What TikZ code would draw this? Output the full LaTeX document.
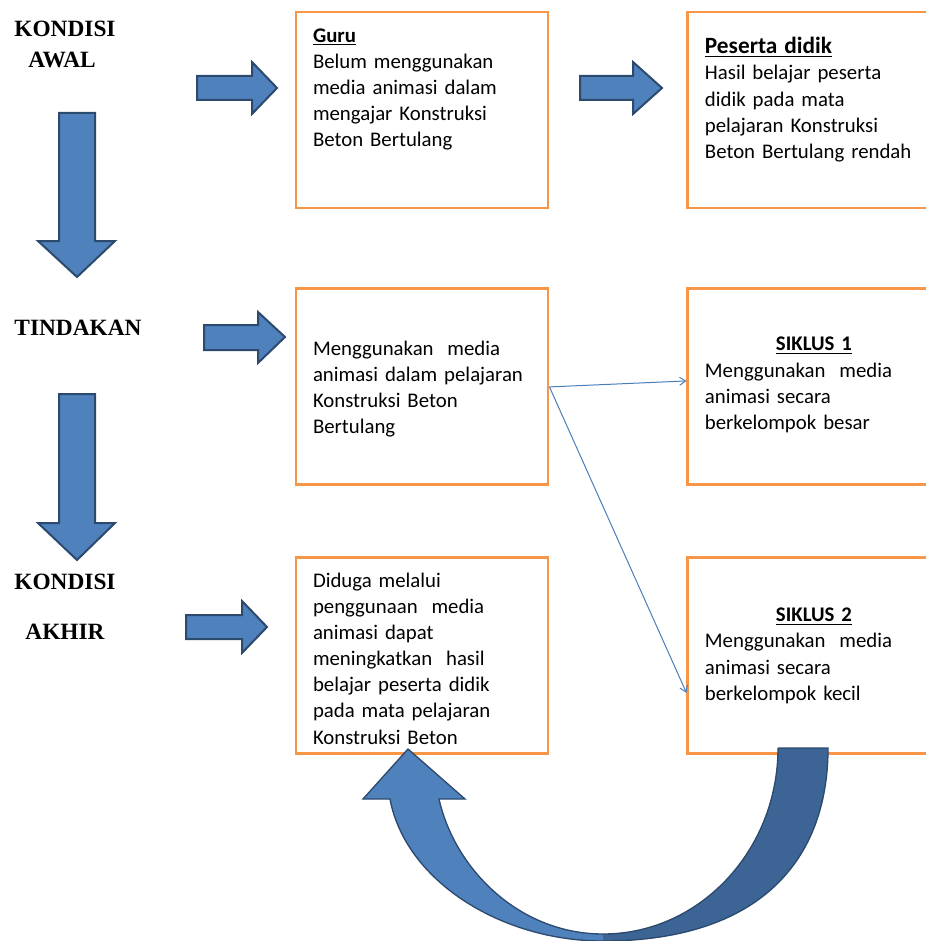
\documentclass[tikz,border=0pt]{standalone}
\usepackage{fontspec}
\setmainfont{Carlito}
\newfontfamily\stagefont{Liberation Serif}
\usetikzlibrary{arrows.meta, positioning}

\definecolor{boxorange}{HTML}{F79646}
\definecolor{arrowblue}{HTML}{4F81BD}
\definecolor{arrowdark}{HTML}{3C6494}
\definecolor{arrowline}{HTML}{2C4A6E}
\definecolor{linkblue}{HTML}{4A7EBB}

\begin{document}
\begin{tikzpicture}[
x=0.75pt, y=-0.75pt,
box/.style={draw=boxorange, line width=2.2pt, minimum width=189pt, minimum height=147pt, inner sep=0pt},
boxtext/.style={text width=163.5pt, align=left, inner sep=0pt, font=\fontsize{15.6}{19.6}\selectfont},
stage/.style={font=\stagefont\bfseries\fontsize{17.5}{21}\selectfont, inner sep=0pt},
blockarrow/.style={fill=arrowblue, draw=arrowline, line width=1.5pt, line join=miter},
link/.style={-{Straight Barb[length=4.5pt, width=6pt]}, draw=linkblue, line width=0.75pt}
]
\useasboundingbox (0,0) rectangle (925,941);

% stage labels on the left
\node[stage] (awal1) at (65,29) {KONDISI};
\node[stage] (awal2) at (62,60) {AWAL};
\node[stage] (tindakan) at (78,328) {TINDAKAN};
\node[stage] (akhir1) at (65,582) {KONDISI};
\node[stage] (akhir2) at (65,632) {AKHIR};

% boxes
\node[box] (guru) at (422,110) {};
\node[box, right=102.75pt of guru] (peserta) {};
\node[box, below=58.5pt of guru] (tind) {};
\node[box, right=102.75pt of tind] (siklus1) {};
\node[box, below=52.5pt of tind] (duga) {};
\node[box, right=102.75pt of duga] (siklus2) {};

% box texts
\node[boxtext, anchor=north] (gurutxt) at ([yshift=-13.5pt]guru.north)
  {\textbf{\underline{Guru}}\\ Belum menggunakan\\ media animasi dalam\\ mengajar Konstruksi\\ Beton Bertulang};
\node[boxtext, anchor=north] (pesertatxt) at ([yshift=-20pt]peserta.north)
  {{\fontsize{17.5}{21}\selectfont\textbf{\underline{Peserta didik}}}\\ Hasil belajar peserta\\ didik pada mata\\ pelajaran Konstruksi\\ Beton Bertulang rendah};
\node[boxtext] (tindtxt) at ([yshift=-1.5pt]tind.center)
  {Menggunakan~ media\\ animasi dalam pelajaran\\ Konstruksi Beton\\ Bertulang};
\node[boxtext] (siklus1txt) at ([yshift=1.5pt]siklus1.center)
  {\makebox[163.5pt]{\textbf{\underline{SIKLUS 1}}}\\ Menggunakan~ media\\ animasi secara\\ berkelompok besar};
\node[boxtext] (dugatxt) at ([yshift=-2pt]duga.center)
  {Diduga melalui\\ penggunaan~ media\\ animasi dapat\\ meningkatkan~ hasil\\ belajar peserta didik\\ pada mata pelajaran\\ Konstruksi Beton};
\node[boxtext] (siklus2txt) at (siklus2.center)
  {\makebox[163.5pt]{\textbf{\underline{SIKLUS 2}}}\\ Menggunakan~ media\\ animasi secara\\ berkelompok kecil};

% thin connectors
\draw[link] (tind.east) -- ([yshift=4.5pt]siklus1.west);
\draw[link] (tind.east) -- ([yshift=-27.75pt]siklus2.west);

% block arrows to the right
\draw[blockarrow] (197,76) -- (252,76) -- (252,62) -- (277,88) -- (252,114) -- (252,100) -- (197,100) -- cycle;
\draw[blockarrow] (580,76) -- (633,76) -- (633,62) -- (662,88) -- (633,114) -- (633,100) -- (580,100) -- cycle;
\draw[blockarrow] (204,325) -- (258,325) -- (258,312) -- (285,337) -- (258,363) -- (258,350) -- (204,350) -- cycle;
\draw[blockarrow] (186,615) -- (242,615) -- (242,601) -- (267,627) -- (242,653) -- (242,639) -- (186,639) -- cycle;

% block arrows down
\draw[blockarrow] (59,113) -- (95,113) -- (95,241) -- (115,241) -- (77,277) -- (38,241) -- (59,241) -- cycle;
\draw[blockarrow] (59,394) -- (95,394) -- (95,523) -- (115,523) -- (77,560) -- (38,523) -- (59,523) -- cycle;

% curved arrow back to the hypothesis
\fill[arrowdark] (603,941) .. controls (760,941) and (828,860) .. (828,748)
  -- (778,748) .. controls (778,850) and (700,934) .. (603,934) -- cycle;
\fill[arrowblue] (603,941) .. controls (500,941) and (405,880) .. (390,799)
  -- (363,799) -- (408,749) -- (465,799) -- (439,799)
  .. controls (455,870) and (520,934) .. (603,934) -- cycle;
\draw[arrowline, line width=1pt, line join=miter] (778,748) -- (828,748)
  .. controls (828,860) and (760,941) .. (603,941)
  .. controls (500,941) and (405,880) .. (390,799)
  -- (363,799) -- (408,749) -- (465,799) -- (439,799)
  .. controls (455,870) and (520,934) .. (603,934)
  .. controls (700,934) and (778,850) .. (778,748);
\end{tikzpicture}
\end{document}
